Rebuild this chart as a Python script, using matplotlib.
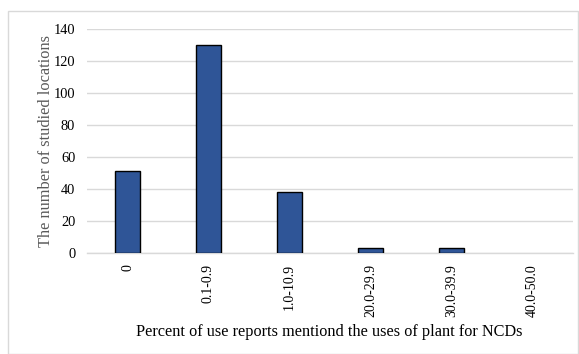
import matplotlib
matplotlib.use("Agg")
import matplotlib.pyplot as plt
from matplotlib.patches import Rectangle

plt.rcParams['font.family'] = ['Liberation Serif', 'DejaVu Serif']

# categories and counts
categories = ["0", "0.1-0.9", "1.0-10.9", "20.0-29.9", "30.0-39.9", "40.0-50.0"]
counts = [51, 130, 38, 3, 3, 0]

fig = plt.figure(figsize=(5.79, 3.54), dpi=100)
ax = fig.add_axes([87/579, 1 - 253/354, 486/579, 224/354])

x = range(len(categories))
# no outline on empty bars
edge_w = [1.0 if c > 0 else 0 for c in counts]
ax.bar(x, counts, width=0.32, color="#2f5597", edgecolor="black", linewidth=edge_w, zorder=3)

ax.set_xlim(-0.5, len(categories) - 0.5)
ax.set_ylim(0, 140)
ax.set_yticks(range(0, 141, 20))
ax.set_xticks(list(x))
ax.set_xticklabels(categories, rotation=90, fontsize=10)
ax.tick_params(axis="y", labelsize=10.4, length=0, pad=8.5)
ax.tick_params(axis="x", length=0, pad=8)
ax.grid(axis="y", color="#d9d9d9", linewidth=1.0, zorder=0)
for side in ["top", "right", "left"]:
    ax.spines[side].set_visible(False)
ax.spines["bottom"].set_color("#d9d9d9")
ax.spines["bottom"].set_linewidth(1.0)

ax.set_ylabel("The number of studied locations", fontsize=11.8, color="#595959", labelpad=0)
fig.text(329/579, 1 - 332/354, "Percent of use reports mentiond the uses of plant for NCDs",
         fontsize=11.7, ha="center", va="center")

# outer frame
fig.patches.append(Rectangle((8/579, 0), 570/579, 1 - 11/354, transform=fig.transFigure,
                             fill=False, edgecolor="#d9d9d9", linewidth=1.0))

fig.savefig("out.png", dpi=100)
